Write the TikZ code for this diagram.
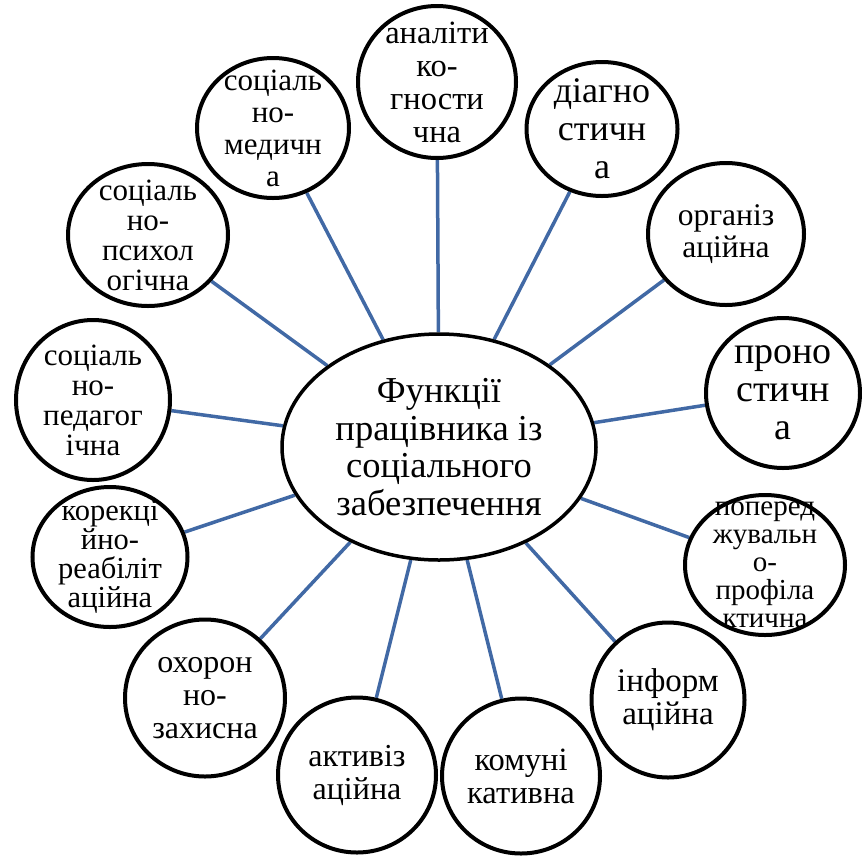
\documentclass[tikz,border=0pt]{standalone}
\usepackage{fontspec}
\setmainfont{Liberation Serif}
\usetikzlibrary{shapes.geometric,backgrounds}
\definecolor{spokeblue}{RGB}{65,105,165}
\begin{document}
\begin{tikzpicture}[x=1pt,y=-1pt,
  bub/.style={ellipse, draw=black, line width=4pt, fill=white, inner sep=0pt},
  hubshape/.style={ellipse, draw=black, line width=3.5pt, fill=white, inner sep=0pt},
  lbl/.style={align=center, inner sep=0pt, text=black},
  spoke/.style={draw=spokeblue, line width=3.5pt}]
\useasboundingbox (0,0) rectangle (862,855);

% central ellipse
\node[hubshape, minimum width=314pt, minimum height=226pt] (hub) at (439,447) {};
\node[lbl, font=\fontsize{36.5}{37.5}\selectfont] (hubtext) at (hub) {Функції\\працівника із\\соціального\\забезпечення};

% surrounding functions
\node[bub, minimum width=152pt, minimum height=140pt] (socmed) at (273,128) {};
\node[lbl, font=\fontsize{31}{32}\selectfont] at (socmed) {соціаль\\но-\\медичн\\а};

\node[bub, minimum width=158pt, minimum height=152pt] (analit) at (437,82) {};
\node[lbl, font=\fontsize{32.5}{33}\selectfont] at (analit) {аналіти\\ко-\\гности\\чна};

\node[bub, minimum width=151pt, minimum height=134pt] (diagn) at (602,129) {};
\node[lbl, font=\fontsize{36}{38}\selectfont] at (diagn) {діагно\\стичн\\а};

\node[bub, minimum width=156pt, minimum height=142pt] (organ) at (726,234) {};
\node[lbl, font=\fontsize{31.5}{32}\selectfont] at (organ) {організ\\аційна};

\node[bub, minimum width=154pt, minimum height=150pt] (progn) at (783,393) {};
\node[lbl, font=\fontsize{38}{38}\selectfont] at (progn) {проно\\стичн\\а};

\node[bub, minimum width=160pt, minimum height=140pt] (prevent) at (765,565) {};
\node[lbl, font=\fontsize{29}{28}\selectfont] at (prevent) {поперед\\жувальн\\о-\\профіла\\ктична};

\node[bub, minimum width=153pt, minimum height=155pt] (inform) at (668,700) {};
\node[lbl, font=\fontsize{33}{33}\selectfont] at (inform) {інформ\\аційна};

\node[bub, minimum width=158pt, minimum height=155pt] (komun) at (521,776) {};
\node[lbl, font=\fontsize{32.5}{33}\selectfont] at (komun) {комуні\\кативна};

\node[bub, minimum width=158pt, minimum height=155pt] (aktyv) at (357,775) {};
\node[lbl, font=\fontsize{32}{33}\selectfont] at (aktyv) {активіз\\аційна};

\node[bub, minimum width=160pt, minimum height=157pt] (okhor) at (205,698) {};
\node[lbl, font=\fontsize{32}{33}\selectfont] at (okhor) {охорон\\но-\\захисна};

\node[bub, minimum width=155pt, minimum height=140pt] (korek) at (110,557) {};
\node[lbl, font=\fontsize{30.5}{29}\selectfont] at (korek) {корекці\\йно-\\реабіліт\\аційна};

\node[bub, minimum width=154pt, minimum height=160pt] (socped) at (93,400) {};
\node[lbl, font=\fontsize{31}{30}\selectfont] at (socped) {соціаль\\но-\\педагог\\ічна};

\node[bub, minimum width=160pt, minimum height=142pt] (socpsy) at (148,235) {};
\node[lbl, font=\fontsize{31}{30}\selectfont] at (socpsy) {соціаль\\но-\\психол\\огічна};

% spokes from the hub to every function
\begin{scope}[on background layer]
  \foreach \n in {socmed,analit,diagn,organ,progn,prevent,inform,komun,aktyv,okhor,korek,socped,socpsy}
    \draw[spoke] (hub) -- (\n);
\end{scope}
\end{tikzpicture}
\end{document}
